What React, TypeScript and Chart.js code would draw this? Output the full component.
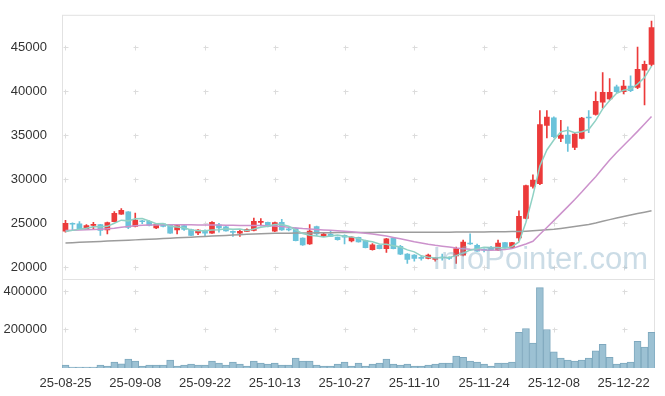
import React, { useEffect, useRef } from "react";
import { Chart, registerables } from "chart.js";
Chart.register(...registerables);

const dates = [
  "25-08-25","25-08-26","25-08-27","25-08-28","25-08-29",
  "25-09-01","25-09-02","25-09-03","25-09-04","25-09-05",
  "25-09-08","25-09-09","25-09-10","25-09-11","25-09-12",
  "25-09-15","25-09-16","25-09-17","25-09-18","25-09-19",
  "25-09-22","25-09-23","25-09-24","25-09-25","25-09-26",
  "25-09-29","25-09-30","25-10-01","25-10-02","25-10-10",
  "25-10-13","25-10-14","25-10-15","25-10-16","25-10-17",
  "25-10-20","25-10-21","25-10-22","25-10-23","25-10-24",
  "25-10-27","25-10-28","25-10-29","25-10-30","25-10-31",
  "25-11-03","25-11-04","25-11-05","25-11-06","25-11-07",
  "25-11-10","25-11-11","25-11-12","25-11-13","25-11-14",
  "25-11-17","25-11-18","25-11-19","25-11-20","25-11-21",
  "25-11-24","25-11-25","25-11-26","25-11-27","25-11-28",
  "25-12-01","25-12-02","25-12-03","25-12-04","25-12-05",
  "25-12-08","25-12-09","25-12-10","25-12-11","25-12-12",
  "25-12-15","25-12-16","25-12-17","25-12-18","25-12-19",
  "25-12-22","25-12-23","25-12-24","25-12-26","25-12-29",
];

const opens = [
  24100,25000,24930,24370,24750,24860,24260,25200,26050,26320,
  24640,25200,25240,24480,24930,24860,24260,24750,24300,23920,
  24190,23890,24820,24600,24080,23890,24080,24190,25100,25120,
  24110,25120,24330,24450,23330,22660,24640,23520,23780,23440,
  23630,22990,23400,23030,22020,22510,22130,23330,22400,21500,
  21390,21050,21010,20900,21150,21050,21310,21390,22700,22510,
  21990,22210,21950,22800,22240,23330,25570,29190,29500,36140,
  37000,34650,35020,33640,34650,37000,37380,38770,39140,40520,
  39950,40590,40450,42420,43060,
];
const closes = [
  25000,24900,24370,24750,24900,24190,25090,26130,26470,24530,
  25380,25180,24750,24900,24640,23890,24750,24300,23630,24230,
  23890,25120,24480,24150,23960,24080,24330,25240,25120,24640,
  25090,24260,24260,23030,22550,24110,23810,23780,23520,23140,
  23440,23440,22880,22240,22550,22130,23250,22130,21500,20900,
  21010,21010,21390,21060,21060,21010,22130,22880,22650,21840,
  21950,21990,22770,22240,22800,25800,29300,29910,36220,37080,
  34840,35020,34080,35140,36970,36970,38880,39890,39890,39950,
  40590,40070,42500,43060,47240,
];
const highs = [
  25330,25050,25200,24850,25100,24900,25150,26350,26690,26350,
  26170,25350,25300,25000,25000,24900,24800,24800,24350,24300,
  24250,25200,25000,24650,24150,24200,24380,25600,25550,25150,
  25150,25450,24450,24500,23350,24860,24700,23850,24150,23450,
  23700,23500,23450,23100,22700,22550,23300,23350,22500,21550,
  21450,21300,21500,21100,21500,21200,22300,23100,23810,22650,
  22100,22400,23100,22850,22850,26430,29350,30500,37820,37820,
  37100,36700,35970,35300,37050,37820,39950,42130,41450,40700,
  41260,41750,45040,43440,47990,
];
const lows = [
  24000,24200,24300,24300,24300,23630,23810,25150,26000,24400,
  24600,24950,24700,24400,24600,23850,23800,24200,23600,23700,
  23500,23850,24000,24100,23500,23500,24050,24150,24700,24600,
  24050,24200,24150,23000,22500,22600,23600,23480,23480,23100,
  22660,22900,22850,22200,21950,22100,21700,22100,21450,20450,
  20700,20800,20950,20700,20800,20900,20450,21300,22600,21800,
  21750,21950,21900,22200,22200,23000,25500,29000,29400,34720,
  34700,34280,33160,33360,34600,35300,37300,38100,39000,39850,
  39700,39950,40300,38470,42900,
];
const volumes = [
  15000,5000,5000,5000,5000,15000,10000,31000,22000,46000,
  36000,10000,15000,15000,15000,41000,10000,15000,20000,15000,
  15000,36000,26000,15000,31000,20000,10000,36000,26000,20000,
  26000,15000,15000,51000,36000,36000,15000,10000,10000,20000,
  31000,10000,26000,10000,20000,26000,46000,20000,15000,20000,
  10000,10000,15000,20000,26000,26000,62000,56000,36000,31000,
  20000,10000,26000,26000,31000,185000,205000,130000,417000,200000,
  84000,51000,41000,36000,41000,51000,89000,123000,56000,20000,
  26000,31000,138000,108000,185000,
];
const ma5 = [
  24080,24200,24330,24450,24600,24620,24660,25010,25360,25280,
  25520,25540,25260,24950,24970,24670,24590,24500,24240,24160,
  24160,24230,24270,24370,24320,24360,24200,24350,24550,24680,
  24880,24870,24670,24260,23840,23640,23550,23460,23550,23670,
  23540,23460,23280,23030,22910,22650,22610,22460,22310,21980,
  21760,21310,21160,21070,21110,21110,21330,21630,21950,22100,
  22290,22260,22240,22160,22350,22880,25120,28150,31510,33340,
  34470,35400,35570,35290,35400,35660,36700,38010,38950,39780,
  40120,40260,40820,41570,42870,
];
const ma20 = [
  24190,24210,24230,24260,24290,24330,24380,24450,24550,24650,
  24720,24770,24800,24820,24830,24840,24840,24840,24830,24820,
  24810,24800,24800,24790,24780,24760,24750,24740,24740,24730,
  24700,24650,24560,24480,24400,24350,24300,24250,24200,24150,
  24100,24030,23960,23880,23800,23680,23550,23400,23240,23080,
  22900,22760,22620,22500,22400,22300,22200,22120,22050,22000,
  21960,21950,21970,22020,22130,22400,22650,22960,23750,24530,
  25310,26100,26900,27700,28550,29450,30300,31250,32200,33050,
  33850,34650,35450,36300,37150,
];
const ma60 = [
  22770,22800,22840,22870,22910,22940,22980,23010,23050,23080,
  23120,23150,23190,23230,23270,23310,23350,23390,23430,23470,
  23510,23550,23590,23630,23670,23710,23750,23790,23820,23840,
  23860,23870,23880,23890,23900,23910,23920,23930,23940,23950,
  23950,23960,23960,23970,23970,23980,23980,23980,23990,23990,
  23990,24000,24000,24000,24000,24000,24010,24010,24010,24020,
  24020,24030,24030,24040,24060,24080,24110,24150,24200,24260,
  24330,24420,24520,24630,24750,24880,25050,25240,25420,25600,
  25780,25950,26110,26270,26430,
];
const priceTicks = [20000, 25000, 30000, 35000, 40000, 45000];
const volumeTicks = [200000, 400000];

const RED = "#ec3a3a";
const BLUE = "#6ac3da";
const FONT = { family: "'Liberation Sans', Arial, sans-serif", size: 13 };

export default function App() {
  const ref = useRef<HTMLCanvasElement>(null);
  useEffect(() => {
    document.body.style.margin = "0";
    const canvas = ref.current!;
    const candleColors = dates.map((_, i) => (closes[i] > opens[i] ? RED : BLUE));

    const gridPlugin = {
      id: "gridCross",
      beforeDatasetsDraw(chart: any) {
        const { ctx, chartArea } = chart;
        const xs = chart.scales.x;
        const yp = chart.scales.y;
        const yv = chart.scales.yv;
        ctx.save();
        ctx.strokeStyle = "#e2e2e2";
        ctx.lineWidth = 1;
        ctx.strokeRect(chartArea.left + 0.5, chartArea.top + 0.5, chartArea.right - chartArea.left - 1, chartArea.bottom - chartArea.top - 1);
        ctx.beginPath();
        const sy = Math.round(yp.bottom) + 0.5;
        ctx.moveTo(chartArea.left, sy);
        ctx.lineTo(chartArea.right, sy);
        ctx.stroke();
        ctx.strokeStyle = "#dcdcdc";
        ctx.beginPath();
        const ys: number[] = [];
        priceTicks.forEach((v) => ys.push(yp.getPixelForValue(v)));
        volumeTicks.forEach((v) => ys.push(yv.getPixelForValue(v)));
        dates.forEach((_, i) => {
          if (i % 10 !== 0) return;
          const x = Math.round(xs.getPixelForValue(i)) + 0.5;
          ys.forEach((yy) => {
            const y = Math.round(yy) + 0.5;
            ctx.moveTo(x - 2, y);
            ctx.lineTo(x + 3, y);
            ctx.moveTo(x, y - 2);
            ctx.lineTo(x, y + 3);
          });
        });
        ctx.stroke();
        ctx.restore();
      },
      afterDatasetsDraw(chart: any) {
        const { ctx } = chart;
        const yp = chart.scales.y;
        ctx.save();
        ctx.font = "31px 'Liberation Sans', Arial, sans-serif";
        ctx.fillStyle = "rgba(140,178,200,0.45)";
        ctx.textAlign = "right";
        ctx.textBaseline = "alphabetic";
        ctx.fillText("InfoPointer.com", 648, yp.bottom - 10);
        ctx.restore();
      },
    };

    const chart = new Chart(canvas, {
      type: "bar",
      data: {
        labels: dates,
        datasets: [
          {
            type: "line", label: "MA5", data: ma5, yAxisID: "y",
            borderColor: "#8fd1c4", borderWidth: 1.5, pointRadius: 0, order: 1,
          },
          {
            type: "line", label: "MA20", data: ma20, yAxisID: "y",
            borderColor: "#cc92cc", borderWidth: 1.5, pointRadius: 0, order: 2,
          },
          {
            type: "line", label: "MA60", data: ma60, yAxisID: "y",
            borderColor: "#9c9c9c", borderWidth: 1.5, pointRadius: 0, order: 3,
          },
          {
            type: "bar", label: "body", data: dates.map((_, i) => [opens[i], closes[i]]) as any,
            yAxisID: "y", backgroundColor: candleColors, barThickness: 5, minBarLength: 1,
            grouped: false, order: 4,
          },
          {
            type: "bar", label: "wick", data: dates.map((_, i) => [lows[i], highs[i]]) as any,
            yAxisID: "y", backgroundColor: candleColors, barThickness: 1,
            grouped: false, order: 5,
          },
          {
            type: "bar", label: "volume", data: volumes, yAxisID: "yv",
            backgroundColor: "#9cc1d3", borderColor: "#7ea8be", borderWidth: 1,
            barPercentage: 1, categoryPercentage: 1, grouped: false, order: 6,
          },
        ],
      },
      options: {
        animation: false,
        responsive: false,
        layout: { padding: { top: 10, right: 10, left: 0, bottom: 0 } },
        plugins: { legend: { display: false }, tooltip: { enabled: false } },
        scales: {
          x: {
            type: "category",
            grid: { display: false },
            border: { display: false },
            ticks: {
              autoSkip: false, maxRotation: 0, minRotation: 0, padding: 0,
              color: "#333", font: FONT,
              callback: (_v: any, i: number) => (i % 10 === 0 ? dates[i] : ""),
            },
            afterFit: (s: any) => { s.height = 28; },
          },
          yv: {
            type: "linear", position: "left", stack: "main", stackWeight: 90,
            min: 0, max: 461000,
            afterBuildTicks: (s: any) => { s.ticks = volumeTicks.map((v) => ({ value: v })); },
            grid: { display: false }, border: { display: false },
            ticks: { color: "#333", font: FONT, padding: 7, callback: (v: any) => String(v) },
            afterFit: (s: any) => { s.width = 62; },
          },
          y: {
            type: "linear", position: "left", stack: "main", stackWeight: 268,
            min: 18650, max: 48700,
            afterBuildTicks: (s: any) => { s.ticks = priceTicks.map((v) => ({ value: v })); },
            grid: { display: false }, border: { display: false },
            ticks: { color: "#333", font: FONT, padding: 7, callback: (v: any) => String(v) },
            afterFit: (s: any) => { s.width = 62; },
          },
        },
      },
      plugins: [gridPlugin],
    } as any);
    return () => chart.destroy();
  }, []);
  return <canvas ref={ref} width={665} height={396} style={{ display: "block" }} />;
}
